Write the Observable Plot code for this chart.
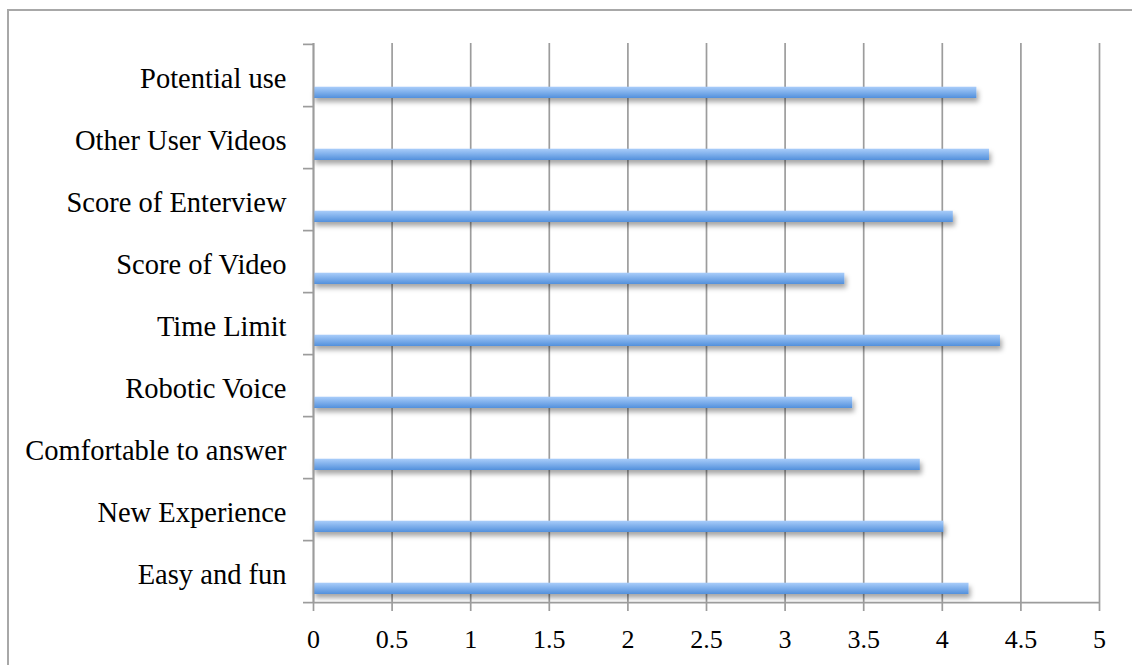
<!DOCTYPE html>
<html>
<head>
<meta charset="utf-8">
<script src="https://cdn.jsdelivr.net/npm/d3@7"></script>
<script src="https://cdn.jsdelivr.net/npm/@observablehq/plot@0.6"></script>
<style>
  html, body { margin: 0; padding: 0; background: #fff; overflow: hidden; }
  #wrap { position: relative; width: 1132px; height: 665px; }
  #frame { position: absolute; left: 7px; top: 9px; width: 1200px; height: 800px;
           border-top: 2px solid #a8a8a8; border-left: 2px solid #a8a8a8; pointer-events: none; }
  #chart { position: absolute; left: 0; top: 0; }
</style>
</head>
<body>
<div id="wrap"><div id="frame"></div><div id="chart"></div></div>
<script>
// Categories listed bottom-to-top as in the chart
const categories = [
  "Easy and fun",
  "New Experience",
  "Comfortable to answer",
  "Robotic Voice",
  "Time Limit",
  "Score of Video",
  "Score of Enterview",
  "Other User Videos",
  "Potential use"
];
const values = [4.17, 4.01, 3.86, 3.43, 4.37, 3.38, 4.07, 4.30, 4.22];
const xTicks = [0, 0.5, 1, 1.5, 2, 2.5, 3, 3.5, 4, 4.5, 5];

const data = categories.map((c, i) => ({category: c, value: values[i]}));

const W = 1132, H = 665, mt = 43, mb = 62, ml = 313, mr = 33;
const step = (H - mt - mb) / categories.length;
const gray = "#9c9c9c";

const chart = Plot.plot({
  width: W, height: H,
  marginTop: mt, marginBottom: mb, marginLeft: ml, marginRight: mr,
  style: {fontFamily: "'Liberation Serif', serif", fontSize: "28px", color: "#000", background: "transparent", overflow: "visible"},
  x: {domain: [0, 5], label: null},
  y: {domain: categories.slice().reverse(), padding: 0, label: null},
  marks: [
    Plot.gridX(xTicks, {stroke: gray, strokeOpacity: 1, strokeWidth: 1.7}),
    Plot.barX(data, {x: "value", y: "category", fill: "url(#barGrad)", insetTop: step - 19.5, insetBottom: 8}),
    Plot.ruleX([0], {stroke: gray, strokeWidth: 1.7}),
    Plot.ruleY([categories[0]], {dy: step / 2, stroke: gray, strokeWidth: 1.7}),
    // category boundary ticks on the y axis
    Plot.ruleY(categories, {y: d => d, x1: 0, x2: 0, insetLeft: -10, dy: step / 2, stroke: gray, strokeWidth: 1.7}),
    Plot.ruleY([categories[categories.length - 1]], {y: d => d, x1: 0, x2: 0, insetLeft: -10, dy: -step / 2, stroke: gray, strokeWidth: 1.7}),
    Plot.axisY({tickSize: 0, tickPadding: 27, fontSize: 28.5, dy: 3, fill: "#000"}),
    Plot.axisX({ticks: xTicks, tickSize: 8, tickPadding: 18, stroke: gray, strokeWidth: 1.7, fill: "#000", fontSize: 26, tickFormat: d => String(d)})
  ]
});

const svg = d3.select(chart);
const defs = svg.insert("defs", ":first-child");
const grad = defs.append("linearGradient").attr("id", "barGrad").attr("x1", 0).attr("y1", 0).attr("x2", 0).attr("y2", 1);
grad.append("stop").attr("offset", "0%").attr("stop-color", "#a9cdfa");
grad.append("stop").attr("offset", "100%").attr("stop-color", "#5290dc");
const f = defs.append("filter").attr("id", "shadow").attr("x", "-10%").attr("y", "-50%").attr("width", "130%").attr("height", "250%");
f.append("feDropShadow").attr("dx", 2).attr("dy", 4).attr("stdDeviation", 2.5).attr("flood-color", "#000").attr("flood-opacity", 0.35);
svg.selectAll("g[aria-label='bar']").attr("filter", "url(#shadow)");

document.getElementById("chart").appendChild(chart);
</script>
</body>
</html>
